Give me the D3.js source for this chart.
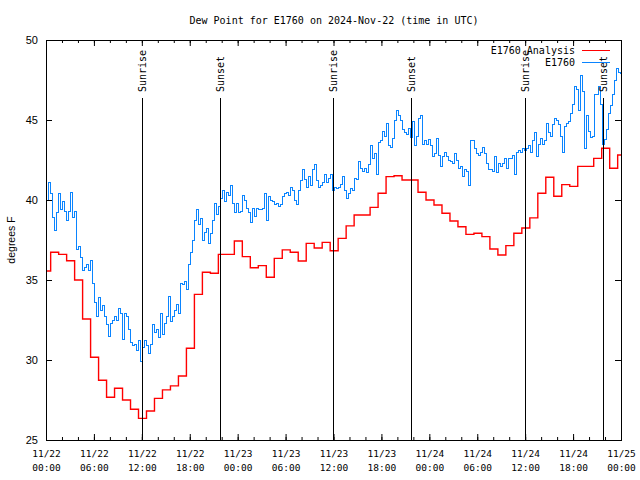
<!DOCTYPE html>
<html><head><meta charset="utf-8">
<script src="https://cdn.jsdelivr.net/npm/d3@7"></script>
<style>
body{margin:0;background:#fff;}
svg{display:block;background:#fff;}
</style></head><body>
<svg id="chart" width="640" height="480"></svg>
<script>
// ---------------- data ----------------
const chartTitle = "Dew Point for E1760 on 2024-Nov-22 (time in UTC)";
const yAxisLabel = "degrees F";
const startTime = Date.UTC(2024, 10, 22, 0, 0);
const endTime = Date.UTC(2024, 10, 25, 0, 0);
const seriesNames = ["E1760 Analysis", "E1760"];
const seriesColors = ["#ff0000", "#0a84ff"];
const yTicks = [25, 30, 35, 40, 45, 50];

// hourly analysis values, first at 11/22 00:05 UTC
const analysisValues = [
  35.56, 36.73, 36.6, 36.2, 35.0, 32.56, 30.17, 28.73, 27.67, 28.23,
  27.5, 26.92, 26.35, 26.81, 27.6, 28.13, 28.38, 29.0, 30.73, 34.1,
  35.48, 35.42, 36.6, 36.6, 37.44, 36.46, 35.77, 35.9, 35.17, 36.35,
  36.88, 36.73, 36.19, 37.29, 37.0, 37.35, 36.83, 37.6, 38.38, 39.06,
  39.06, 39.54, 40.42, 41.46, 41.52, 41.25, 41.25, 40.48, 40.0, 39.69,
  39.17, 38.69, 38.33, 37.85, 37.92, 37.71, 36.94, 36.56, 37.15, 37.92,
  38.25, 38.88, 40.42, 41.42, 40.23, 40.96, 40.85, 42.1, 42.1, 42.6,
  43.23, 41.98, 42.81
];

// observations every 15 minutes from 11/22 00:00 UTC
const obsValues = [
  39.7, 40.0, 41.1, 40.4,   38.9, 38.1, 39.2, 40.4,   39.4, 39.9, 39.3, 38.7,
  39.3, 40.5, 38.9, 39.3,   36.9, 37.1, 36.4, 35.6,   35.8, 36.0, 35.6, 36.2,
  34.8, 33.6, 32.7, 33.9,   33.1, 33.4, 32.7, 32.2,   31.5, 32.3, 32.5, 32.7,
  32.5, 33.2, 32.9, 31.3,   32.9, 32.7, 31.9, 31.1,   30.9, 31.0, 30.6, 31.2,
  29.9, 30.8, 31.25, 30.9,  30.4, 31.0, 32.2, 31.7,   31.9, 31.4, 32.9, 31.6,
  32.3, 32.7, 34.0, 32.4,   32.7, 33.1, 33.5, 32.9,   34.8, 34.7, 34.9, 34.4,
  36.0, 36.7, 37.5, 38.7,   39.4, 38.5, 38.85, 37.5,  38.0, 38.2, 37.3, 37.9,
  38.7, 39.8, 39.1, 39.6,   40.1, 40.6, 39.9, 40.5,   40.3, 40.9, 39.8, 39.2,
  39.8, 39.2, 39.3, 40.3,   40.0, 39.5, 39.2, 38.6,   39.5, 39.0, 39.5, 39.4,
  39.4, 39.5, 40.4, 38.7,   40.2, 40.0, 39.9, 39.7,   39.8, 39.6, 39.7, 40.2,
  40.4, 40.5, 40.3, 40.8,   40.6, 40.0, 39.7, 40.6,   41.2, 41.9, 41.3, 40.8,
  41.5, 40.9, 41.9, 42.2,   41.2, 40.8, 40.9, 41.1,   41.6, 41.1, 41.35, 41.6,
  40.6, 40.8, 40.7, 40.8,   41.0, 41.5, 40.6, 40.1,   40.4, 40.7, 40.6, 41.35,
  41.3, 42.4, 42.0, 41.8,   42.0, 41.7, 42.2, 43.4,   42.6, 42.9, 41.6, 43.6,
  43.7, 44.3, 44.0, 44.8,   43.4, 43.3, 43.85, 45.0,  45.6, 45.3, 45.0, 44.4,
  44.2, 44.1, 44.5, 43.9,   44.9, 43.4, 44.0, 45.1,   45.3, 43.5, 43.75, 43.5,
  43.8, 43.4, 42.7, 42.9,   43.85, 42.8, 42.1, 42.7,  43.0, 42.7, 42.5, 42.4,
  42.3, 42.9, 42.5, 42.0,   42.1, 41.5, 41.9, 41.8,   40.9, 43.75, 43.75, 43.2,
  42.9, 42.8, 43.0, 43.3,   42.9, 42.3, 41.9, 41.9,   41.8, 42.7, 41.7, 42.3,
  42.1, 42.3, 42.6, 42.0,   42.6, 42.6, 42.8, 41.6,   43.0, 43.1, 43.0, 43.2,
  43.1, 43.2, 43.4, 42.95,  43.75, 44.2, 42.7, 43.5,  43.85, 43.5, 43.7, 44.8,
  44.2, 44.0, 44.7, 45.1,   45.0, 44.7, 44.0, 43.0,   44.6, 44.8, 44.9, 45.4,
  46.0, 47.1, 46.9, 45.6,   47.8, 46.8, 43.2, 45.3,   44.3, 43.9, 44.0, 46.6,
  46.6, 47.1, 46.0, 43.5,   43.8, 44.4, 45.4, 45.9,   46.6, 47.5, 48.2, 48.0,
  47.9
];

const sunLabels = ["Sunrise", "Sunset", "Sunrise", "Sunset", "Sunrise", "Sunset"];
const sunTimes = ["2024-11-22T11:58Z", "2024-11-22T21:44Z", "2024-11-23T11:59Z",
                  "2024-11-23T21:43Z", "2024-11-24T12:00Z", "2024-11-24T21:42Z"];

// ---------------- build ----------------
const HOUR = 3600e3;
const analysisData = analysisValues.map((v, i) => ({t: new Date(startTime + i * HOUR + 5 * 60e3), v}));
const obsData = obsValues.map((v, i) => ({t: new Date(startTime + i * HOUR / 4), v}));

const L = 46, R = 621, T = 40, B = 440;
const svg = d3.select("#chart");
const x = d3.scaleUtc().domain([new Date(startTime), new Date(endTime)]).range([L, R]);
const y = d3.scaleLinear().domain([25, 50]).range([B, T]);

const mono = "'DejaVu Sans Mono', monospace";
const sans = "'Liberation Sans', Arial, sans-serif";

// title
svg.append("text").attr("x", 334).attr("y", 23.5).attr("text-anchor", "middle")
  .attr("font-family", mono).attr("font-size", 10).attr("fill", "#000").text(chartTitle);

// y label
svg.append("text").attr("transform", "translate(15,240) rotate(-90)")
  .attr("text-anchor", "middle").attr("font-family", sans).attr("font-size", 10.5)
  .attr("fill", "#000").text(yAxisLabel);

// clip
svg.append("clipPath").attr("id", "clip").append("rect")
  .attr("x", L).attr("y", T).attr("width", R - L + 1).attr("height", B - T);

const plot = svg.append("g").attr("clip-path", "url(#clip)");

const lineA = d3.line().x(d => x(d.t)).y(d => y(d.v)).curve(d3.curveStep);
plot.append("path").datum(analysisData).attr("d", lineA)
  .attr("fill", "none").attr("stroke", seriesColors[0]).attr("stroke-width", 1.4);
plot.append("path").datum(obsData).attr("d", lineA)
  .attr("fill", "none").attr("stroke", seriesColors[1]).attr("stroke-width", 1)
  .attr("shape-rendering", "crispEdges");

// sun lines and labels
sunTimes.forEach((s, i) => {
  const xx = Math.round(x(new Date(s))) + 0.5;
  svg.append("line").attr("x1", xx).attr("x2", xx).attr("y1", 98).attr("y2", B)
    .attr("stroke", "#000").attr("stroke-width", 1).attr("shape-rendering", "crispEdges");
  svg.append("text").attr("transform", `translate(${xx},92) rotate(-90)`)
    .attr("dy", "0.36em").attr("font-family", mono).attr("font-size", 10)
    .attr("fill", "#000").text(sunLabels[i]);
});

// axes
const fmtD = d3.utcFormat("%m/%d"), fmtT = d3.utcFormat("%H:%M");
svg.append("g").attr("transform", `translate(0,${B})`)
  .call(d3.axisBottom(x).ticks(d3.utcHour.every(2)).tickSizeInner(-3).tickSizeOuter(0).tickFormat(""));
const gx = svg.append("g").attr("transform", `translate(0,${B})`)
  .call(d3.axisBottom(x).ticks(d3.utcHour.every(6)).tickSizeInner(-6).tickSizeOuter(0).tickPadding(0));
gx.selectAll(".tick text").each(function(d) {
  const t = d3.select(this).text(null).attr("y", 0).attr("dy", null);
  t.append("tspan").attr("x", 0).attr("y", 16.5).text(fmtD(d));
  t.append("tspan").attr("x", 0).attr("y", 30.5).text(fmtT(d));
});
gx.selectAll("text").attr("font-family", mono).attr("font-size", 9.5).attr("fill", "#000");
svg.append("g").attr("transform", `translate(0,${T})`)
  .call(d3.axisTop(x).ticks(d3.utcHour.every(2)).tickSizeInner(-3).tickSizeOuter(0).tickFormat(""));
svg.append("g").attr("transform", `translate(0,${T})`)
  .call(d3.axisTop(x).ticks(d3.utcHour.every(6)).tickSizeInner(-6).tickSizeOuter(0).tickFormat(""));

const gy = svg.append("g").attr("transform", `translate(${L},0)`)
  .call(d3.axisLeft(y).tickValues(yTicks).tickSizeInner(-6).tickSizeOuter(0).tickPadding(8));
gy.selectAll("text").attr("font-family", sans).attr("font-size", 11).attr("fill", "#000");
svg.append("g").attr("transform", `translate(${R},0)`)
  .call(d3.axisRight(y).tickValues(yTicks).tickSizeInner(-6).tickSizeOuter(0).tickFormat(""));

svg.selectAll(".domain").remove();
svg.selectAll(".tick line").attr("stroke", "#000");

// frame
svg.append("rect").attr("x", L + 0.5).attr("y", T + 0.5).attr("width", R - L).attr("height", B - T)
  .attr("fill", "none").attr("stroke", "#000").attr("stroke-width", 1);

// legend
seriesNames.forEach((n, i) => {
  const yy = 50 + i * 12;
  svg.append("text").attr("x", 575).attr("y", yy).attr("dy", "0.35em").attr("text-anchor", "end")
    .attr("font-family", mono).attr("font-size", 10).attr("fill", "#000").text(n);
  svg.append("line").attr("x1", 582).attr("x2", 610).attr("y1", yy + 0.5).attr("y2", yy + 0.5)
    .attr("stroke", seriesColors[i]).attr("stroke-width", 1).attr("shape-rendering", "crispEdges");
});
</script>
</body></html>
